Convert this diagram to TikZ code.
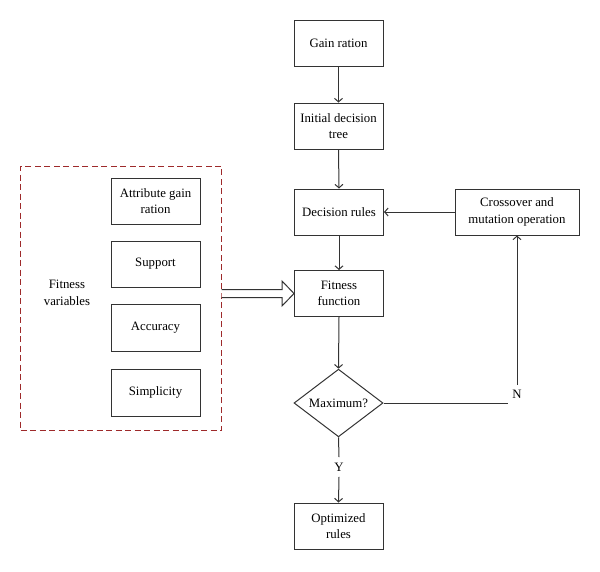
\documentclass[tikz,border=0pt]{standalone}
\usepackage{fontspec}
\setmainfont{Liberation Serif}
\usetikzlibrary{arrows.meta,shapes.geometric,calc}
\definecolor{ln}{HTML}{333333}
\definecolor{fr}{HTML}{9E2A2B}
\begin{document}
\begin{tikzpicture}[x=1pt,y=-1pt,
  box/.style={draw=ln,line width=1pt,minimum width=89pt,minimum height=46pt,inner sep=0pt,align=center,font=\fontsize{12.8}{16.5}\selectfont},
  lbl/.style={font=\fontsize{12.8}{16.5}\selectfont,align=center},
  conn/.style={draw=ln,line width=1pt},
  arr/.style={conn,-{Straight Barb[length=3.5pt,width=8pt]}}]
\useasboundingbox (0,0) rectangle (600,571);
% main column
\node[box] (gain) at (338.5,43) {Gain ration};
\node[box] (init) at (338.5,126) {Initial decision\\tree};
\node[box] (dec) at (339,212) {Decision rules};
\node[box,minimum width=124pt] (cross) at (517,212) {Crossover and\\mutation operation};
\node[box] (fit) at (339,293.5) {Fitness\\function};
\node[draw=ln,line width=1pt,diamond,minimum width=89pt,minimum height=62pt,inner sep=0pt,font=\fontsize{12.8}{16.5}\selectfont] (max) at (338.5,403) {Maximum?};
\node[box] (opt) at (338.5,526) {Optimized\\rules};
% left frame
\node[draw=fr,line width=1pt,dash pattern=on 6pt off 3.5pt,minimum width=201pt,minimum height=264pt,inner sep=0pt] (frame) at (121.2,298) {};
\node[box] (attr) at (155.5,201) {Attribute gain\\ration};
\node[box] (supp) at (155.5,264) {Support};
\node[box,minimum height=47pt] (acc) at (155.5,327.5) {Accuracy};
\node[box,minimum height=47pt] (simp) at (155.5,392.5) {Simplicity};
\node[lbl] (fv) at (67,293) {Fitness\\variables};
% labels
\node[lbl,inner sep=4.5pt] (nlab) at (517,394) {N};
\node[lbl,inner sep=5.5pt] (ylab) at (339,467) {Y};
% connectors
\draw[arr] (gain.south) -- (init.north);
\draw[arr] (init.south) -- (dec.north);
\draw[arr] (cross.west) -- (dec.east);
\draw[arr] (dec.south) -- (fit.north);
\draw[arr] (fit.south) -- (max.north);
\draw[conn] (max.east) -- (max.east -| nlab.west);
\draw[arr] (nlab.north) -- (nlab.north |- cross.south);
\draw[conn] (max.south) -- (ylab.north);
\draw[arr] (ylab.south) -- (opt.north);
% hollow arrow
\draw[conn,fill=white] ($(fit.west)+(-72.3,-4)$) -- ($(fit.west)+(-12,-4)$) -- ($(fit.west)+(-12,-12.5)$) -- (fit.west) -- ($(fit.west)+(-12,12.5)$) -- ($(fit.west)+(-12,4)$) -- ($(fit.west)+(-72.3,4)$);
\end{tikzpicture}
\end{document}
